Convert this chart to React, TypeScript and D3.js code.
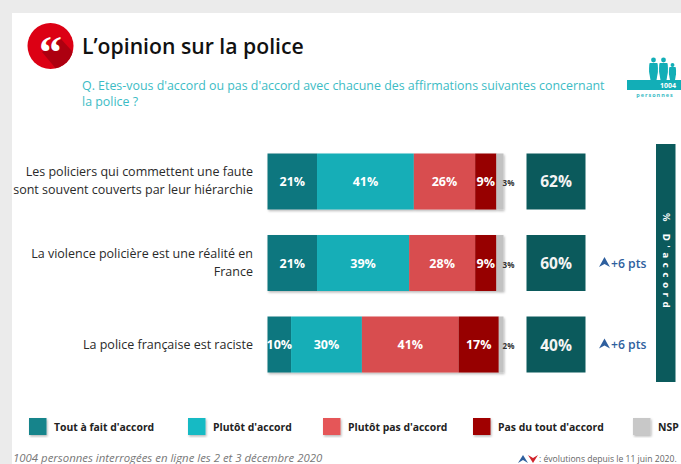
import React from "react";
import * as d3 from "d3";

// Survey statements and answer shares
const statements = [
  ["Les policiers qui commettent une faute", "sont souvent couverts par leur hiérarchie"],
  ["La violence policière est une réalité en", "France"],
  ["La police française est raciste"],
];
const answerLabels = ["Tout à fait d'accord", "Plutôt d'accord", "Plutôt pas d'accord", "Pas du tout d'accord", "NSP"];
const answerColors = ["#10777f", "#12aeb7", "#d84e50", "#970000", "#c2c2c2"];
const legendSwatchColors = ["#12848b", "#16bac4", "#e55658", "#a00000", "#c8c8c8"];
const shares = [
  [21, 41, 26, 9, 3],
  [21, 39, 28, 9, 3],
  [10, 30, 41, 17, 2],
];
const agreeTotals = [62, 60, 40];
const evolutions = ["", "+6 pts", "+6 pts"];

const FONT = "'Open Sans', 'Noto Sans', sans-serif";
const rowKeys = [0, 1, 2];

const x = d3.scaleLinear().domain([0, 100]).range([267.5, 503.5]);
const y = d3.scaleBand<number>().domain(rowKeys).range([153.5, 372.5]).paddingInner(0.313).paddingOuter(0);
const stack = d3.stack<number[], number>().keys([0, 1, 2, 3, 4]).value((d, k) => d[k]);
const layers = stack(shares);

const legendX = [29, 188, 323, 473, 633];

function Person({ cx, top, s }: { cx: number; top: number; s: number }) {
  const path = d3.path();
  path.moveTo(cx - 3.6 * s, top + 5 * s);
  path.lineTo(cx + 3.6 * s, top + 5 * s);
  path.quadraticCurveTo(cx + 4.6 * s, top + 5 * s, cx + 4.4 * s, top + 14 * s);
  path.lineTo(cx + 3 * s, top + 22 * s);
  path.lineTo(cx - 3 * s, top + 22 * s);
  path.lineTo(cx - 4.4 * s, top + 14 * s);
  path.quadraticCurveTo(cx - 4.6 * s, top + 5 * s, cx - 3.6 * s, top + 5 * s);
  path.closePath();
  return (
    <g fill="#12aeb7">
      <circle cx={cx} cy={top + 2} r={2.4 * s} />
      <path d={path.toString()} />
    </g>
  );
}

export default function App() {
  const h = y.bandwidth();
  return (
    <svg
      width={681}
      height={464}
      viewBox="0 0 681 464"
      style={{ position: "fixed", left: 0, top: 0, display: "block", fontFamily: FONT }}
    >
      <defs>
        <filter id="soft" x="-10%" y="-10%" width="125%" height="125%">
          <feDropShadow dx="1" dy="1.5" stdDeviation="1.2" floodColor="#000" floodOpacity="0.28" />
        </filter>
        <clipPath id="badge">
          <circle cx={50.5} cy={46} r={23} />
        </clipPath>
      </defs>
      <rect width={681} height={464} fill="#ebebeb" />
      <rect x={12} y={13} width={669} height={451} fill="#fff" />

      {/* Quote badge */}
      <circle cx={50.5} cy={46} r={23} fill="#dc0014" />
      <path d="M42 52 L62 76 L80 60 L61 39 Z" fill="#ad0010" clipPath="url(#badge)" />
      <text x={50.5} y={68} textAnchor="middle" fontSize={46} fontWeight={700} fill="#fff" fontFamily="'Liberation Serif', serif">
        “
      </text>

      <text x={82} y={54} fontSize={21.2} fontWeight={600} fill="#111">
        L’opinion sur la police
      </text>
      <text fontSize={12.4} fill="#3cbcc5">
        <tspan x={82} y={90}>Q. Etes-vous d'accord ou pas d'accord avec chacune des affirmations suivantes concernant</tspan>
        <tspan x={82} y={106}>la police ?</tspan>
      </text>

      {/* Sample size pictogram */}
      <Person cx={653.5} top={58} s={1} />
      <Person cx={663.5} top={58} s={1} />
      <Person cx={672.5} top={63} s={0.8} />
      <rect x={627} y={80} width={54} height={10} fill="#12aeb7" />
      <text x={668} y={88} textAnchor="middle" fontSize={7} fontWeight={700} fill="#fff">1004</text>
      <text x={655} y={97} textAnchor="middle" fontSize={5.5} fontWeight={700} letterSpacing={1} fill="#3cbcc5">personnes</text>

      {/* Statement labels */}
      {statements.map((lines, r) => {
        const mid = y(r)! + h / 2;
        return (
          <text key={r} textAnchor="end" fontSize={12.5} fill="#2a2a2a">
            {lines.map((line, i) => (
              <tspan key={i} x={253} y={mid + 4 + (i - (lines.length - 1) / 2) * 18}>
                {line}
              </tspan>
            ))}
          </text>
        );
      })}

      {/* Stacked bars */}
      {rowKeys.map((r) => (
        <g key={r} filter="url(#soft)">
          {layers.map((layer, k) => (
            <rect
              key={k}
              x={x(layer[r][0])}
              y={y(r)!}
              width={x(layer[r][1]) - x(layer[r][0])}
              height={h}
              fill={answerColors[k]}
            />
          ))}
        </g>
      ))}
      {rowKeys.map((r) =>
        layers.map((layer, k) => {
          const [a, b] = layer[r];
          const last = k === layers.length - 1;
          return (
            <text
              key={`${r}-${k}`}
              x={last ? x(b) + 5 : (x(a) + x(b)) / 2}
              y={y(r)! + h / 2 + 4.5}
              textAnchor="middle"
              fontSize={last ? 8 : 12.5}
              fontWeight={700}
              fill={last ? "#333" : "#fff"}
            >
              {shares[r][k]}%
            </text>
          );
        })
      )}

      {/* Agreement totals and changes */}
      {rowKeys.map((r) => (
        <g key={r}>
          <rect x={526.5} y={y(r)!} width={59} height={h} fill="#0b5a5c" />
          <text x={556} y={y(r)! + h / 2 + 6} textAnchor="middle" fontSize={15.5} fontWeight={700} fill="#f4f4f4">
            {agreeTotals[r]}%
          </text>
          {evolutions[r] && (
            <g>
              <path
                d={`M599 ${y(r)! + h / 2 + 4} L604.5 ${y(r)! + h / 2 - 6} L610 ${y(r)! + h / 2 + 4} L604.5 ${y(r)! + h / 2 + 1} Z`}
                fill="#2e5f9e"
              />
              <text x={611} y={y(r)! + h / 2 + 4.5} fontSize={12.2} fontWeight={600} fill="#2e5f9e">
                {evolutions[r]}
              </text>
            </g>
          )}
        </g>
      ))}

      <rect x={656} y={144} width={19.5} height={238} fill="#0b5a5c" />
      <text
        transform="translate(662.5 213) rotate(90)"
        fontSize={8.5}
        fontWeight={700}
        letterSpacing={4.6}
        fill="#fff"
        fontFamily="'DejaVu Sans', sans-serif"
      >
        % D'accord
      </text>

      {/* Legend */}
      {answerLabels.map((label, i) => (
        <g key={label}>
          <rect x={legendX[i]} y={418} width={17.5} height={17} fill={legendSwatchColors[i]} filter="url(#soft)" />
          <text x={legendX[i] + 25} y={430.5} fontSize={10.4} fontWeight={700} fill="#222">
            {label}
          </text>
        </g>
      ))}

      {/* Footnotes */}
      <text x={13} y={462} fontSize={11.4} fontStyle="italic" fill="#777">
        1004 personnes interrogées en ligne les 2 et 3 décembre 2020
      </text>
      <path d="M518 463 L523 455 L528 463 L523 460 Z" fill="#2e5f9e" />
      <path d="M528 455 L533 463 L538 455 L533 458 Z" fill="#d0222a" />
      <text x={539} y={462} fontSize={8.6} fill="#666">
        : évolutions depuis le 11 juin 2020.
      </text>
    </svg>
  );
}
